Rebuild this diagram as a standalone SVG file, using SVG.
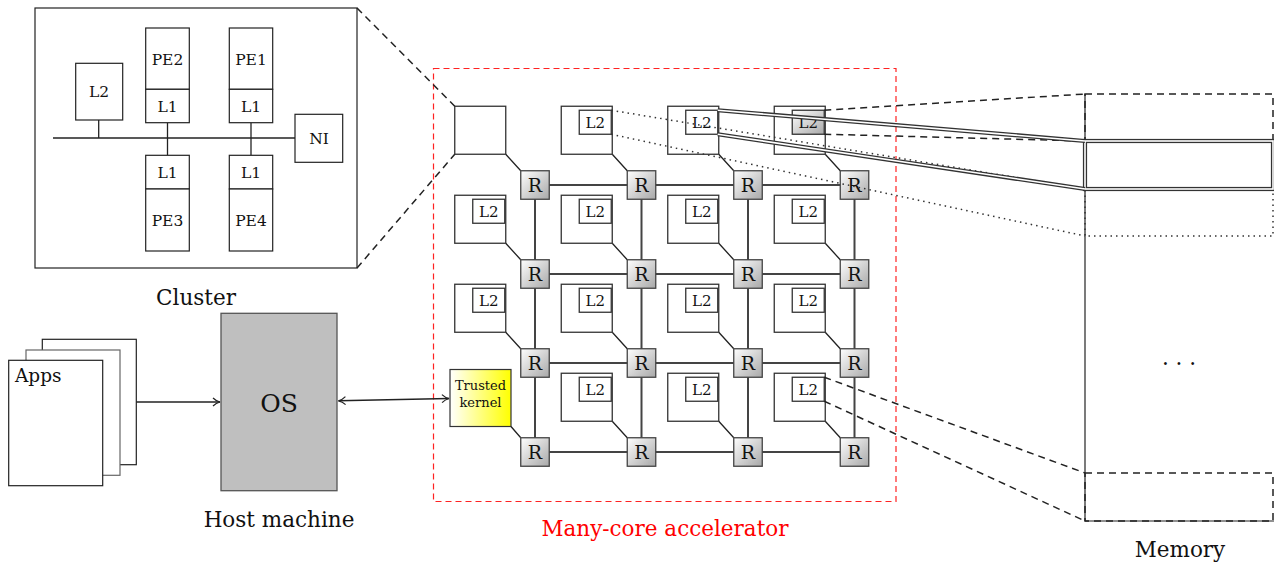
<svg xmlns="http://www.w3.org/2000/svg" width="1274" height="563" viewBox="0 0 1274 563">
<defs>
<linearGradient id="gR" x1="0" y1="0" x2="1" y2="1"><stop offset="0" stop-color="#ffffff"/><stop offset="1" stop-color="#a8a8a8"/></linearGradient>
<linearGradient id="gY" x1="0" y1="0" x2="1" y2="0"><stop offset="0" stop-color="#ffffff"/><stop offset="1" stop-color="#ffff00"/></linearGradient>
<marker id="ah" viewBox="0 0 10 10" refX="9" refY="5" markerWidth="10" markerHeight="10" markerUnits="userSpaceOnUse" orient="auto-start-reverse"><path d="M2,1 Q5,4 9,5 Q5,6 2,9" fill="none" stroke="#222" stroke-width="1.2"/></marker>
<style>
.t{font-family:"DejaVu Serif","Liberation Serif",serif;fill:#111;text-anchor:middle}
.box{fill:#fff;stroke:#222;stroke-width:1.2}
.tile{fill:#fff;stroke:#333;stroke-width:1.3}
.rb{fill:url(#gR);stroke:#444;stroke-width:1.3}
.grid{stroke:#444;stroke-width:2;fill:none}
.lnk{stroke:#222;stroke-width:1.3;fill:none}
.dash{stroke:#222;stroke-width:1.5;stroke-dasharray:7,5;fill:none}
.dot{stroke:#333;stroke-width:1.5;stroke-dasharray:1.5,4;fill:none}
.dblo{stroke:#333;stroke-width:4.2;fill:none}
.dbli{stroke:#fff;stroke-width:1.6;fill:none}
</style>
</defs>
<rect width="1274" height="563" fill="#fff"/>

<g id="cluster-detail">
<rect class="box" x="35" y="8" width="322" height="260"/>
<line class="lnk" x1="53" y1="138" x2="295" y2="138"/>
<line class="lnk" x1="98.7" y1="120" x2="98.7" y2="138"/>
<line class="lnk" x1="167.5" y1="122.7" x2="167.5" y2="155.3"/>
<line class="lnk" x1="251" y1="122.7" x2="251" y2="155.3"/>
<rect class="box" x="75.7" y="63.3" width="47" height="56.7"/>
<text class="t" x="99" y="97.4" font-size="15.5">L2</text>
<rect class="box" x="145.7" y="28" width="43.6" height="61.3"/>
<rect class="box" x="145.7" y="89.3" width="43.6" height="33.4"/>
<text class="t" x="167.5" y="64.5" font-size="15.5">PE2</text>
<text class="t" x="167.5" y="111.7" font-size="15.5">L1</text>
<rect class="box" x="229.3" y="28" width="43.4" height="61.3"/>
<rect class="box" x="229.3" y="89.3" width="43.4" height="33.4"/>
<text class="t" x="251" y="64.5" font-size="15.5">PE1</text>
<text class="t" x="251" y="111.7" font-size="15.5">L1</text>
<rect class="box" x="145.7" y="155.3" width="43.6" height="33.7"/>
<rect class="box" x="145.7" y="189" width="43.6" height="62"/>
<text class="t" x="167.5" y="177.8" font-size="15.5">L1</text>
<text class="t" x="167.5" y="225.7" font-size="15.5">PE3</text>
<rect class="box" x="229.3" y="155.3" width="43.4" height="33.7"/>
<rect class="box" x="229.3" y="189" width="43.4" height="62"/>
<text class="t" x="251" y="177.8" font-size="15.5">L1</text>
<text class="t" x="251" y="225.7" font-size="15.5">PE4</text>
<rect class="box" x="295" y="114.3" width="47.7" height="48"/>
<text class="t" x="319" y="144" font-size="15.5">NI</text>
<text class="t" x="196" y="305" font-size="21.5">Cluster</text>
</g>

<g id="apps">
<rect x="42.3" y="339.3" width="94" height="125.4" fill="#fff" stroke="#222" stroke-width="1.2"/>
<rect x="26" y="350" width="94" height="125.3" fill="#fff" stroke="#666" stroke-width="1.2"/>
<rect x="8.7" y="360.3" width="94" height="125.4" fill="#fff" stroke="#222" stroke-width="1.2"/>
<text class="t" x="15" y="382" font-size="18.5" text-anchor="start" style="text-anchor:start">Apps</text>
</g>

<g id="host">
<rect x="221" y="313.3" width="116" height="177.4" fill="#bfbfbf" stroke="#555" stroke-width="1.3"/>
<text class="t" x="279" y="412" font-size="25">OS</text>
<text class="t" x="279" y="527" font-size="21.5">Host machine</text>
</g>

<g id="accelerator">
<rect x="433.5" y="68.5" width="462.5" height="433" fill="none" stroke="#f22" stroke-width="1.2" stroke-dasharray="6,4"/>
<text class="t" x="665" y="536" font-size="21.5" style="fill:#f00">Many-core accelerator</text>
</g>

<g id="noc-links">
<path class="grid" d="M535,185H854.5M535,274H854.5M535,363H854.5M535,452H854.5M535,185V452M641.5,185V452M748,185V452M854.5,185V452"/>
<path class="lnk" d="M505.75,154.25L520.75,170.75M612.25,154.25L627.25,170.75M718.75,154.25L733.75,170.75M825.25,154.25L840.25,170.75
M505.75,243.25L520.75,259.75M612.25,243.25L627.25,259.75M718.75,243.25L733.75,259.75M825.25,243.25L840.25,259.75
M505.75,332.25L520.75,348.75M612.25,332.25L627.25,348.75M718.75,332.25L733.75,348.75M825.25,332.25L840.25,348.75
M511,426.5L520.75,437.75M612.25,421.25L627.25,437.75M718.75,421.25L733.75,437.75M825.25,421.25L840.25,437.75"/>
</g>

<g id="tiles">
<rect class="tile" x="454.75" y="106.25" width="51" height="48"/>
<rect class="tile" x="561.25" y="106.25" width="51" height="48"/><rect class="tile" x="579.25" y="110.25" width="32" height="24"/><text class="t" x="595.25" y="128" font-size="15">L2</text>
<rect class="tile" x="667.75" y="106.25" width="51" height="48"/><rect class="tile" x="685.75" y="110.25" width="32" height="24"/><text class="t" x="701.75" y="128" font-size="15">L2</text>
<rect class="tile" x="774.25" y="106.25" width="51" height="48"/><rect x="792.25" y="110.25" width="32" height="24" fill="url(#gR)" stroke="#333" stroke-width="1.3"/><text class="t" x="808.25" y="128" font-size="15">L2</text>

<rect class="tile" x="454.75" y="195.25" width="51" height="48"/><rect class="tile" x="472.75" y="199.25" width="32" height="24"/><text class="t" x="488.75" y="217" font-size="15">L2</text>
<rect class="tile" x="561.25" y="195.25" width="51" height="48"/><rect class="tile" x="579.25" y="199.25" width="32" height="24"/><text class="t" x="595.25" y="217" font-size="15">L2</text>
<rect class="tile" x="667.75" y="195.25" width="51" height="48"/><rect class="tile" x="685.75" y="199.25" width="32" height="24"/><text class="t" x="701.75" y="217" font-size="15">L2</text>
<rect class="tile" x="774.25" y="195.25" width="51" height="48"/><rect class="tile" x="792.25" y="199.25" width="32" height="24"/><text class="t" x="808.25" y="217" font-size="15">L2</text>

<rect class="tile" x="454.75" y="284.25" width="51" height="48"/><rect class="tile" x="472.75" y="288.25" width="32" height="24"/><text class="t" x="488.75" y="306" font-size="15">L2</text>
<rect class="tile" x="561.25" y="284.25" width="51" height="48"/><rect class="tile" x="579.25" y="288.25" width="32" height="24"/><text class="t" x="595.25" y="306" font-size="15">L2</text>
<rect class="tile" x="667.75" y="284.25" width="51" height="48"/><rect class="tile" x="685.75" y="288.25" width="32" height="24"/><text class="t" x="701.75" y="306" font-size="15">L2</text>
<rect class="tile" x="774.25" y="284.25" width="51" height="48"/><rect class="tile" x="792.25" y="288.25" width="32" height="24"/><text class="t" x="808.25" y="306" font-size="15">L2</text>

<rect class="tile" x="561.25" y="373.25" width="51" height="48"/><rect class="tile" x="579.25" y="377.25" width="32" height="24"/><text class="t" x="595.25" y="395" font-size="15">L2</text>
<rect class="tile" x="667.75" y="373.25" width="51" height="48"/><rect class="tile" x="685.75" y="377.25" width="32" height="24"/><text class="t" x="701.75" y="395" font-size="15">L2</text>
<rect class="tile" x="774.25" y="373.25" width="51" height="48"/><rect class="tile" x="792.25" y="377.25" width="32" height="24"/><text class="t" x="808.25" y="395" font-size="15">L2</text>
</g>

<g id="trusted-kernel">
<rect x="450" y="369.5" width="61" height="57" fill="url(#gY)" stroke="#333" stroke-width="1.2"/>
<text class="t" x="480.5" y="390.3" font-size="13">Trusted</text>
<text class="t" x="480.5" y="406.7" font-size="13">kernel</text>
</g>

<g id="routers">
<rect class="rb" x="520.75" y="170.75" width="28.5" height="28.5"/><text class="t" x="535" y="192" font-size="19">R</text>
<rect class="rb" x="627.25" y="170.75" width="28.5" height="28.5"/><text class="t" x="641.5" y="192" font-size="19">R</text>
<rect class="rb" x="733.75" y="170.75" width="28.5" height="28.5"/><text class="t" x="748" y="192" font-size="19">R</text>
<rect class="rb" x="840.25" y="170.75" width="28.5" height="28.5"/><text class="t" x="854.5" y="192" font-size="19">R</text>
<rect class="rb" x="520.75" y="259.75" width="28.5" height="28.5"/><text class="t" x="535" y="281" font-size="19">R</text>
<rect class="rb" x="627.25" y="259.75" width="28.5" height="28.5"/><text class="t" x="641.5" y="281" font-size="19">R</text>
<rect class="rb" x="733.75" y="259.75" width="28.5" height="28.5"/><text class="t" x="748" y="281" font-size="19">R</text>
<rect class="rb" x="840.25" y="259.75" width="28.5" height="28.5"/><text class="t" x="854.5" y="281" font-size="19">R</text>
<rect class="rb" x="520.75" y="348.75" width="28.5" height="28.5"/><text class="t" x="535" y="370" font-size="19">R</text>
<rect class="rb" x="627.25" y="348.75" width="28.5" height="28.5"/><text class="t" x="641.5" y="370" font-size="19">R</text>
<rect class="rb" x="733.75" y="348.75" width="28.5" height="28.5"/><text class="t" x="748" y="370" font-size="19">R</text>
<rect class="rb" x="840.25" y="348.75" width="28.5" height="28.5"/><text class="t" x="854.5" y="370" font-size="19">R</text>
<rect class="rb" x="520.75" y="437.75" width="28.5" height="28.5"/><text class="t" x="535" y="459" font-size="19">R</text>
<rect class="rb" x="627.25" y="437.75" width="28.5" height="28.5"/><text class="t" x="641.5" y="459" font-size="19">R</text>
<rect class="rb" x="733.75" y="437.75" width="28.5" height="28.5"/><text class="t" x="748" y="459" font-size="19">R</text>
<rect class="rb" x="840.25" y="437.75" width="28.5" height="28.5"/><text class="t" x="854.5" y="459" font-size="19">R</text>
</g>

<g id="memory">
<line x1="1085" y1="94" x2="1085" y2="521" stroke="#222" stroke-width="1.2"/>
<line x1="1085" y1="521" x2="1274" y2="521" stroke="#222" stroke-width="1.2"/>
<rect class="dash" x="1085" y="94" width="188" height="47"/>
<rect class="dot" x="1085" y="189" width="188" height="47"/>
<rect class="dblo" x="1085" y="141" width="188" height="48"/>
<rect class="dbli" x="1085" y="141" width="188" height="48"/>
<rect class="dash" x="1085" y="473" width="188" height="48"/>
<text class="t" x="1179" y="365" font-size="21.5">. . .</text>
<text class="t" x="1180" y="557" font-size="21.5">Memory</text>
</g>

<g id="connectors">
<line class="dash" x1="357" y1="8" x2="454.75" y2="106.25"/>
<line class="dash" x1="357" y1="268" x2="454.75" y2="154.25"/>
<line class="dot" x1="611.25" y1="110.25" x2="1085" y2="189"/>
<line class="dot" x1="611.25" y1="134.25" x2="1085" y2="236"/>
<line class="dash" x1="824.25" y1="110.25" x2="1085" y2="94"/>
<line class="dash" x1="824.25" y1="134.25" x2="1085" y2="141"/>
<path class="dblo" d="M717.75,110.25L1085,141M717.75,134.25L1085,189"/>
<path class="dbli" d="M717.75,110.25L1085,141M717.75,134.25L1085,189"/>
<line class="dash" x1="824.25" y1="377.25" x2="1085" y2="473"/>
<line class="dash" x1="824.25" y1="401.25" x2="1085" y2="521"/>
<line x1="136.3" y1="402" x2="220" y2="402" stroke="#222" stroke-width="1.5" marker-end="url(#ah)"/>
<line x1="338.5" y1="400.8" x2="449" y2="398.5" stroke="#222" stroke-width="1.5" marker-start="url(#ah)" marker-end="url(#ah)"/>
</g>
</svg>
